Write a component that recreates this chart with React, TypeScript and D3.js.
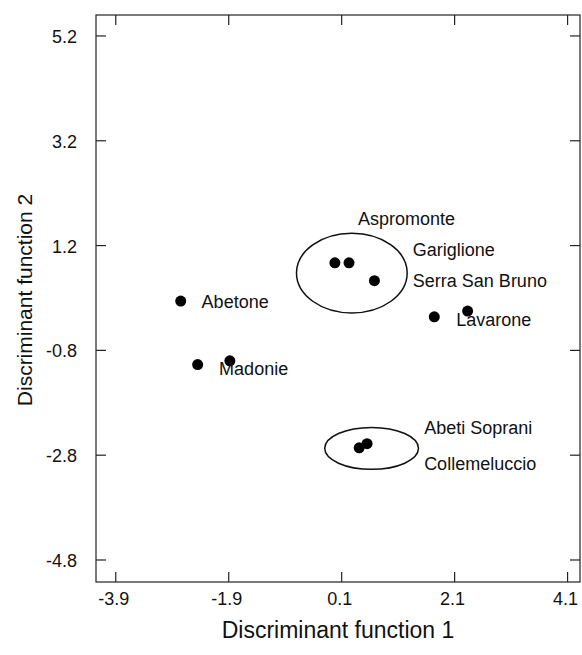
import React, { useEffect, useRef } from 'react';
import * as d3 from 'd3';

// sites: discriminant scores
const siteX = [-2.75, -2.45, -1.88, -0.02, 0.23, 0.68, 1.74, 2.33, 0.41, 0.55];
const siteY = [0.14, -1.07, -1.0, 0.87, 0.87, 0.53, -0.16, -0.05, -2.66, -2.58];

const labelNames = ['Aspromonte', 'Gariglione', 'Serra San Bruno', 'Abetone', 'Lavarone', 'Madonie', 'Abeti Soprani', 'Collemeluccio'];
const labelX = [0.39, 1.36, 1.36, -2.38, 2.13, -2.07, 1.56, 1.56];
const labelY = [1.59, 1.0, 0.41, 0.0, -0.34, -1.27, -2.40, -3.08];

// confidence ellipses: centre, half widths
const ellX = [0.28, 0.63];
const ellY = [0.675, -2.67];
const ellRx = [0.98, 0.83];
const ellRy = [0.76, 0.4];

const xTicks = [-3.9, -1.9, 0.1, 2.1, 4.1];
const yTicks = [5.2, 3.2, 1.2, -0.8, -2.8, -4.8];

const W = 582, H = 655;
const left = 96, top = 15, right = 580, bottom = 582;

export default function App() {
  const ref = useRef<SVGSVGElement>(null);

  useEffect(() => {
    const svg = d3.select(ref.current);
    svg.selectAll('*').remove();
    const font = '"Liberation Sans", Arial, Helvetica, sans-serif';

    const x = d3.scaleLinear().domain([-4.25, 4.32]).range([left, right]);
    const y = d3.scaleLinear().domain([-5.22, 5.6]).range([bottom, top]);

    const g = svg.append('g');

    g.append('rect')
      .attr('x', left).attr('y', top)
      .attr('width', right - left).attr('height', bottom - top)
      .attr('fill', 'none').attr('stroke', '#222').attr('stroke-width', 1.2);

    const tickLen = 10;
    xTicks.forEach(t => {
      g.append('line').attr('x1', x(t)).attr('x2', x(t)).attr('y1', bottom).attr('y2', bottom - tickLen)
        .attr('stroke', '#222').attr('stroke-width', 1.2);
      g.append('line').attr('x1', x(t)).attr('x2', x(t)).attr('y1', top).attr('y2', top + tickLen)
        .attr('stroke', '#222').attr('stroke-width', 1.2);
      g.append('text').attr('x', x(t) - 2).attr('y', 605)
        .attr('text-anchor', 'middle').attr('font-family', font).attr('font-size', 18)
        .attr('fill', '#111').text(t.toFixed(1));
    });
    yTicks.forEach(t => {
      g.append('line').attr('y1', y(t)).attr('y2', y(t)).attr('x1', left).attr('x2', left + tickLen)
        .attr('stroke', '#222').attr('stroke-width', 1.2);
      g.append('line').attr('y1', y(t)).attr('y2', y(t)).attr('x1', right).attr('x2', right - tickLen)
        .attr('stroke', '#222').attr('stroke-width', 1.2);
      g.append('text').attr('x', 77).attr('y', y(t) + 7)
        .attr('text-anchor', 'end').attr('font-family', font).attr('font-size', 18)
        .attr('fill', '#111').text(t.toFixed(1));
    });

    // axis titles
    g.append('text').attr('x', 338).attr('y', 638)
      .attr('text-anchor', 'middle').attr('font-family', font).attr('font-size', 23)
      .attr('fill', '#111').text('Discriminant function 1');
    g.append('text').attr('transform', `translate(32,${300}) rotate(-90)`)
      .attr('text-anchor', 'middle').attr('font-family', font).attr('font-size', 21)
      .attr('fill', '#111').text('Discriminant function 2');

    // ellipses
    g.selectAll('ellipse.grp').data(ellX).enter().append('ellipse')
      .attr('cx', d => x(d))
      .attr('cy', (d, i) => y(ellY[i]))
      .attr('rx', (d, i) => x(ellRx[i]) - x(0))
      .attr('ry', (d, i) => y(0) - y(ellRy[i]))
      .attr('fill', 'none').attr('stroke', '#111').attr('stroke-width', 1.5);

    // points
    g.selectAll('circle.site').data(siteX).enter().append('circle')
      .attr('cx', d => x(d))
      .attr('cy', (d, i) => y(siteY[i]))
      .attr('r', 5.5).attr('fill', '#000');

    // labels
    g.selectAll('text.lab').data(labelNames).enter().append('text')
      .attr('x', (d, i) => x(labelX[i]))
      .attr('y', (d, i) => y(labelY[i]))
      .attr('font-family', font).attr('font-size', 18).attr('fill', '#111')
      .text(d => d);
  }, []);

  return <svg ref={ref} width={W} height={H}
    style={{ position: 'absolute', left: 0, top: 0, display: 'block', background: '#fff' }} />;
}
